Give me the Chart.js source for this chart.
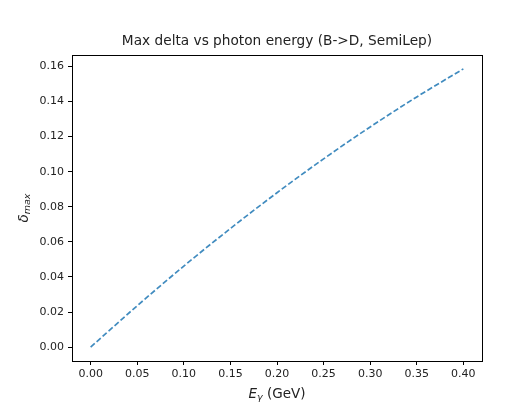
<!DOCTYPE html>
<html>
<head>
<meta charset="utf-8">
<script src="https://cdn.jsdelivr.net/npm/chart.js@4/dist/chart.umd.min.js"></script>
<style>
  html, body { margin: 0; padding: 0; background: #fff; }
  #wrap { width: 529px; height: 402px; }
</style>
</head>
<body>
<div id="wrap"><canvas id="chart" width="529" height="402"></canvas></div>
<script>
// photon energy (GeV) and max delta
const energy = [0, 0.05, 0.10, 0.15, 0.20, 0.25, 0.30, 0.35, 0.40];
const deltaMax = [0, 0.0236, 0.0462, 0.0676, 0.0880, 0.1073, 0.1255, 0.1426, 0.1586];
const xTicks = [0, 0.05, 0.10, 0.15, 0.20, 0.25, 0.30, 0.35, 0.40];
const yTicks = [0, 0.02, 0.04, 0.06, 0.08, 0.10, 0.12, 0.14, 0.16];

const FONT = "'DejaVu Sans', sans-serif";

// frame + title + axis labels (matplotlib look)
const decor = {
  id: 'decor',
  afterDraw(chart) {
    const { ctx, chartArea: a } = chart;
    ctx.save();
    ctx.strokeStyle = '#000';
    ctx.lineWidth = 1;
    ctx.strokeRect(Math.round(a.left) + 0.5, Math.round(a.top) + 0.5,
      Math.round(a.right - a.left), Math.round(a.bottom - a.top));

    const cx = (a.left + a.right) / 2;
    ctx.fillStyle = '#222';
    ctx.textBaseline = 'middle';
    ctx.textAlign = 'center';
    ctx.font = '13.7px ' + FONT;
    ctx.fillText('Max delta vs photon energy (B->D, SemiLep)', cx, 41);

    // x label: E_γ (GeV)
    const parts = [['italic 13.5px ' + FONT, 'E', 0], ['italic 9.5px ' + FONT, 'γ', 4], ['13.5px ' + FONT, ' (GeV)', 0]];
    let w = 0;
    parts.forEach(p => { ctx.font = p[0]; w += ctx.measureText(p[1]).width; });
    let x = cx - w / 2;
    ctx.textAlign = 'left';
    parts.forEach(p => {
      ctx.font = p[0];
      ctx.fillText(p[1], x, 394 + p[2]);
      x += ctx.measureText(p[1]).width;
    });

    // y label: δ_max
    const cy = (a.top + a.bottom) / 2;
    ctx.translate(24, cy);
    ctx.rotate(-Math.PI / 2);
    const yp = [['italic 13.5px ' + FONT, 'δ', 0], ['italic 9.5px ' + FONT, 'max', 4]];
    w = 0;
    yp.forEach(p => { ctx.font = p[0]; w += ctx.measureText(p[1]).width; });
    x = -w / 2;
    yp.forEach(p => {
      ctx.font = p[0];
      ctx.fillText(p[1], x, p[2]);
      x += ctx.measureText(p[1]).width;
    });
    ctx.restore();
  }
};

new Chart(document.getElementById('chart').getContext('2d'), {
  type: 'line',
  data: {
    datasets: [{
      data: energy.map((e, i) => ({ x: e, y: deltaMax[i] })),
      borderColor: 'rgba(31,119,180,0.85)',
      borderWidth: 1.7,
      borderDash: [5.5, 2.5],
      fill: false,
      pointRadius: 0,
      cubicInterpolationMode: 'monotone'
    }]
  },
  options: {
    responsive: false,
    animation: false,
    layout: { padding: { left: 0, right: 47, top: 55, bottom: 0 } },
    scales: {
      x: {
        type: 'linear',
        min: -0.02, max: 0.42,
        afterBuildTicks: s => { s.ticks = xTicks.map(v => ({ value: v })); },
        afterFit: s => { s.height = 41; },
        grid: { drawOnChartArea: false, color: '#000', tickLength: 4 },
        border: { color: '#000' },
        ticks: { color: '#222', font: { family: FONT, size: 11 }, padding: 3, maxRotation: 0,
          callback: v => v.toFixed(2) }
      },
      y: {
        type: 'linear',
        min: -0.0079, max: 0.1665,
        afterBuildTicks: s => { s.ticks = yTicks.map(v => ({ value: v })); },
        afterFit: s => { s.width = 72; },
        grid: { drawOnChartArea: false, color: '#000', tickLength: 4 },
        border: { color: '#000' },
        ticks: { color: '#222', font: { family: FONT, size: 11 }, padding: 4,
          callback: v => v.toFixed(2) }
      }
    },
    plugins: { legend: { display: false }, tooltip: { enabled: false }, title: { display: false } }
  },
  plugins: [decor]
});
</script>
</body>
</html>
